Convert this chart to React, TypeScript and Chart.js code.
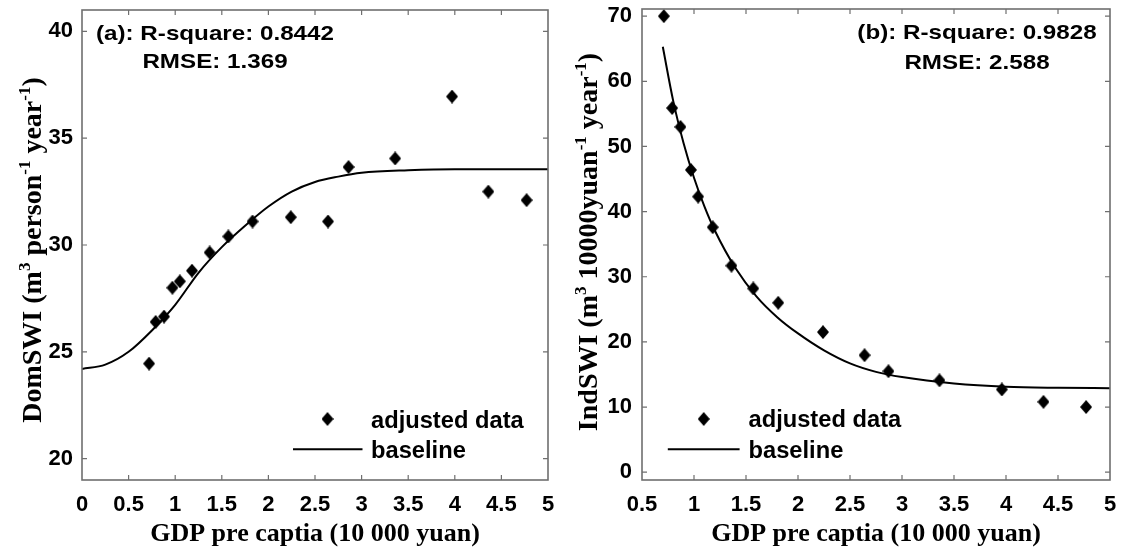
import React, { useEffect, useRef } from 'react';
import { Chart, registerables } from 'chart.js';

Chart.register(...registerables);

// ---------------- data ----------------
const gdpDom = [0.72, 0.79, 0.88, 0.97, 1.05, 1.18, 1.37, 1.57, 1.83, 2.24, 2.64, 2.86, 3.36, 3.97, 4.36, 4.77];
const domSWI = [24.45, 26.4, 26.65, 28.0, 28.3, 28.8, 29.65, 30.4, 31.1, 31.3, 31.1, 33.65, 34.05, 36.95, 32.5, 32.1];

const baseDomX = [0, 0.25, 0.5, 0.75, 1.0, 1.25, 1.5, 1.75, 2.0, 2.25, 2.5, 2.75, 3.0, 3.5, 4.0, 4.5, 5.0];
const baseDomY = [24.2, 24.4, 25.0, 26.0, 27.2, 28.7, 29.9, 30.9, 31.8, 32.5, 32.95, 33.2, 33.38, 33.5, 33.55, 33.55, 33.55];

const gdpInd = [0.71, 0.79, 0.87, 0.97, 1.04, 1.18, 1.36, 1.57, 1.81, 2.24, 2.64, 2.87, 3.36, 3.96, 4.36, 4.77];
const indSWI = [70.0, 55.9, 53.0, 46.4, 42.3, 37.6, 31.7, 28.2, 26.0, 21.5, 17.95, 15.5, 14.1, 12.7, 10.8, 10.0];

const baseIndX = [0.7, 0.8, 0.9, 1.0, 1.1, 1.2, 1.4, 1.6, 1.8, 2.0, 2.25, 2.5, 2.75, 3.0, 3.5, 4.0, 4.5, 5.0];
const baseIndY = [65.3, 57.0, 50.5, 45.2, 40.8, 37.1, 31.3, 27.0, 23.8, 21.3, 18.7, 16.7, 15.4, 14.6, 13.6, 13.1, 12.95, 12.9];

const xTicksDom = [0, 0.5, 1, 1.5, 2, 2.5, 3, 3.5, 4, 4.5, 5];
const xLabelsDom = ['0', '0.5', '1', '1.5', '2', '2.5', '3', '3.5', '4', '4.5', '5'];
const yTicksDom = [20, 25, 30, 35, 40];
const yLabelsDom = ['20', '25', '30', '35', '40'];

const xTicksInd = [0.5, 1, 1.5, 2, 2.5, 3, 3.5, 4, 4.5, 5];
const xLabelsInd = ['0.5', '1', '1.5', '2', '2.5', '3', '3.5', '4', '4.5', '5'];
const yTicksInd = [0, 10, 20, 30, 40, 50, 60, 70];
const yLabelsInd = ['0', '10', '20', '30', '40', '50', '60', '70'];

const xTitle = 'GDP pre captia (10 000 yuan)';
const yTitleDom = [
  { t: 'DomSWI (m' }, { t: '3', sup: true }, { t: ' person' }, { t: '-1', sup: true },
  { t: ' year' }, { t: '-1', sup: true }, { t: ')' },
];
const yTitleInd = [
  { t: 'IndSWI (m' }, { t: '3', sup: true }, { t: ' 10000yuan' }, { t: '-1', sup: true },
  { t: ' year' }, { t: '-1', sup: true }, { t: ')' },
];
const noteDom = ['(a): R-square: 0.8442', 'RMSE: 1.369'];
const noteInd = ['(b): R-square: 0.9828', 'RMSE: 2.588'];
const legendLabels = ['adjusted data', 'baseline'];

// ---------------- styling ----------------
const SANS = '"Liberation Sans", Arial, sans-serif';
const SERIF = '"Liberation Serif", "Times New Roman", serif';

function makeDiamond(): HTMLCanvasElement {
  const c = document.createElement('canvas');
  c.width = 12;
  c.height = 14;
  const g = c.getContext('2d')!;
  g.fillStyle = '#000';
  g.beginPath();
  g.moveTo(6, 0);
  g.lineTo(12, 7);
  g.lineTo(6, 14);
  g.lineTo(0, 7);
  g.closePath();
  g.fill();
  return c;
}

type Seg = { t: string; sup?: boolean };

type Panel = {
  px: number[]; py: number[]; bx: number[]; by: number[];
  xMin: number; xMax: number; yMin: number; yMax: number;
  xTicks: number[]; xLabels: string[]; yTicks: number[]; yLabels: string[];
  yTitle: Seg[]; note: string[];
  axisW: number; padTop: number; padRight: number; yPad: number;
  yTitleX: number; yTitleY: number;
  noteX: number; noteY: [number, number];
  legMarker: [number, number]; legLine: [number, number, number]; legTextX: number; legTextY: [number, number];
};

const panelA: Panel = {
  px: gdpDom, py: domSWI, bx: baseDomX, by: baseDomY,
  xMin: 0, xMax: 5, yMin: 19, yMax: 41,
  xTicks: xTicksDom, xLabels: xLabelsDom, yTicks: yTicksDom, yLabels: yLabelsDom,
  yTitle: yTitleDom, note: noteDom,
  axisW: 82, padTop: 10, padRight: 17, yPad: 9,
  yTitleX: 41, yTitleY: 250,
  noteX: 215, noteY: [39.5, 68],
  legMarker: [327.5, 419], legLine: [293, 362.5, 449.3], legTextX: 371, legTextY: [428, 458],
};

const panelB: Panel = {
  px: gdpInd, py: indSWI, bx: baseIndX, by: baseIndY,
  xMin: 0.5, xMax: 5, yMin: -1.2, yMax: 71.1,
  xTicks: xTicksInd, xLabels: xLabelsInd, yTicks: yTicksInd, yLabels: yLabelsInd,
  yTitle: yTitleInd, note: noteInd,
  axisW: 77, padTop: 9, padRight: 13, yPad: 10,
  yTitleX: 32, yTitleY: 242,
  noteX: 412, noteY: [38.5, 69],
  legMarker: [138.7, 419], legLine: [102.8, 174.6, 449.3], legTextX: 183.5, legTextY: [427, 458],
};

function scaledText(ctx: CanvasRenderingContext2D, text: string, x: number, y: number, align: CanvasTextAlign, sx: number) {
  ctx.save();
  ctx.translate(x, y);
  ctx.scale(sx, 1);
  ctx.textAlign = align;
  ctx.textBaseline = 'alphabetic';
  ctx.fillText(text, 0, 0);
  ctx.restore();
}

function build(canvas: HTMLCanvasElement, p: Panel, diamond: HTMLCanvasElement) {
  const deco = {
    id: 'deco',
    afterDraw(chart: any) {
      const ctx: CanvasRenderingContext2D = chart.ctx;
      const { left, right, top, bottom } = chart.chartArea;
      const xs = chart.scales.x;
      const ys = chart.scales.y;
      ctx.save();
      // box
      ctx.strokeStyle = '#6f6f6f';
      ctx.lineWidth = 1.6;
      ctx.strokeRect(left, top, right - left, bottom - top);
      // inner ticks on all sides
      ctx.lineWidth = 1.2;
      ctx.beginPath();
      p.xTicks.forEach((v) => {
        const x = xs.getPixelForValue(v);
        if (Math.abs(x - left) < 2 || Math.abs(x - right) < 2) return;
        ctx.moveTo(x, bottom); ctx.lineTo(x, bottom - 5);
        ctx.moveTo(x, top); ctx.lineTo(x, top + 5);
      });
      p.yTicks.forEach((v) => {
        const y = ys.getPixelForValue(v);
        ctx.moveTo(left, y); ctx.lineTo(left + 5, y);
        ctx.moveTo(right, y); ctx.lineTo(right - 5, y);
      });
      ctx.stroke();

      ctx.fillStyle = '#000';
      // x title
      ctx.font = `bold 26px ${SERIF}`;
      ctx.textAlign = 'center';
      ctx.textBaseline = 'alphabetic';
      ctx.fillText(xTitle, (left + right) / 2, 541);

      // y title with superscripts (rotated)
      const mainFont = `bold 28px ${SERIF}`;
      const supFont = `bold 17px ${SERIF}`;
      let total = 0;
      const widths = p.yTitle.map((s) => {
        ctx.font = s.sup ? supFont : mainFont;
        const w = ctx.measureText(s.t).width;
        total += w;
        return w;
      });
      ctx.save();
      ctx.translate(p.yTitleX, p.yTitleY);
      ctx.rotate(-Math.PI / 2);
      ctx.textAlign = 'left';
      let cx = -total / 2;
      p.yTitle.forEach((s, i) => {
        ctx.font = s.sup ? supFont : mainFont;
        ctx.fillText(s.t, cx, s.sup ? -11 : 0);
        cx += widths[i];
      });
      ctx.restore();

      // annotation
      ctx.font = `bold 20.5px ${SANS}`;
      scaledText(ctx, p.note[0], p.noteX, p.noteY[0], 'center', 1.18);
      scaledText(ctx, p.note[1], p.noteX, p.noteY[1], 'center', 1.18);

      // legend
      ctx.drawImage(diamond, p.legMarker[0] - diamond.width / 2, p.legMarker[1] - diamond.height / 2);
      ctx.strokeStyle = '#000';
      ctx.lineWidth = 2;
      ctx.beginPath();
      ctx.moveTo(p.legLine[0], p.legLine[2]);
      ctx.lineTo(p.legLine[1], p.legLine[2]);
      ctx.stroke();
      ctx.font = `bold 23px ${SANS}`;
      scaledText(ctx, legendLabels[0], p.legTextX, p.legTextY[0], 'left', 1.03);
      scaledText(ctx, legendLabels[1], p.legTextX, p.legTextY[1], 'left', 1.03);
      ctx.restore();
    },
  };

  const tickFont = { family: SANS, size: 22, weight: 'bold' as const };
  const zeroPad = (s: any) => {
    s.paddingTop = 0;
    s.paddingBottom = 0;
    s.paddingLeft = 0;
    s.paddingRight = 0;
  };

  return new Chart(canvas, {
    type: 'scatter',
    data: {
      datasets: [
        {
          label: legendLabels[0],
          data: p.px.map((x, i) => ({ x, y: p.py[i] })),
          pointStyle: diamond as any,
          pointRadius: 7,
          showLine: false,
          backgroundColor: '#000',
          borderColor: '#000',
          order: 1,
        },
        {
          label: legendLabels[1],
          type: 'line' as any,
          data: p.bx.map((x, i) => ({ x, y: p.by[i] })),
          showLine: true,
          borderColor: '#000',
          borderWidth: 2,
          pointRadius: 0,
          fill: false,
          cubicInterpolationMode: 'monotone',
          order: 2,
        } as any,
      ],
    },
    options: {
      responsive: false,
      animation: false,
      devicePixelRatio: 1,
      layout: { padding: { top: p.padTop, right: p.padRight, left: 0, bottom: 0 } },
      plugins: {
        legend: { display: false },
        tooltip: { enabled: false },
        title: { display: false },
      },
      scales: {
        x: {
          type: 'linear',
          min: p.xMin,
          max: p.xMax,
          grid: { display: false, drawTicks: false },
          border: { display: false },
          ticks: {
            color: '#000',
            font: tickFont,
            padding: 12,
            maxRotation: 0,
            autoSkip: false,
            callback: (v: any) => {
              const i = p.xTicks.findIndex((t) => Math.abs(t - Number(v)) < 1e-6);
              return i >= 0 ? p.xLabels[i] : '';
            },
          },
          afterBuildTicks: (s: any) => { s.ticks = p.xTicks.map((v) => ({ value: v })); },
          afterFit: (s: any) => { s.height = 551 - 480; zeroPad(s); },
        },
        y: {
          type: 'linear',
          min: p.yMin,
          max: p.yMax,
          grid: { display: false, drawTicks: false },
          border: { display: false },
          ticks: {
            color: '#000',
            font: tickFont,
            padding: p.yPad,
            autoSkip: false,
            callback: (v: any) => {
              const i = p.yTicks.findIndex((t) => Math.abs(t - Number(v)) < 1e-6);
              return i >= 0 ? p.yLabels[i] : '';
            },
          },
          afterBuildTicks: (s: any) => { s.ticks = p.yTicks.map((v) => ({ value: v })); },
          afterFit: (s: any) => { s.width = p.axisW; zeroPad(s); },
        },
      },
    },
    plugins: [deco],
  } as any);
}

export default function App() {
  const leftRef = useRef<HTMLCanvasElement>(null);
  const rightRef = useRef<HTMLCanvasElement>(null);
  useEffect(() => {
    const diamond = makeDiamond();
    const a = build(leftRef.current!, panelA, diamond);
    const b = build(rightRef.current!, panelB, diamond);
    return () => {
      a.destroy();
      b.destroy();
    };
  }, []);
  return (
    <div style={{ position: 'absolute', left: 0, top: 0, width: 1123, height: 551, background: '#fff', overflow: 'hidden' }}>
      <canvas ref={leftRef} width={565} height={551} style={{ position: 'absolute', left: 0, top: 0 }} />
      <canvas ref={rightRef} width={558} height={551} style={{ position: 'absolute', left: 565, top: 0 }} />
    </div>
  );
}
